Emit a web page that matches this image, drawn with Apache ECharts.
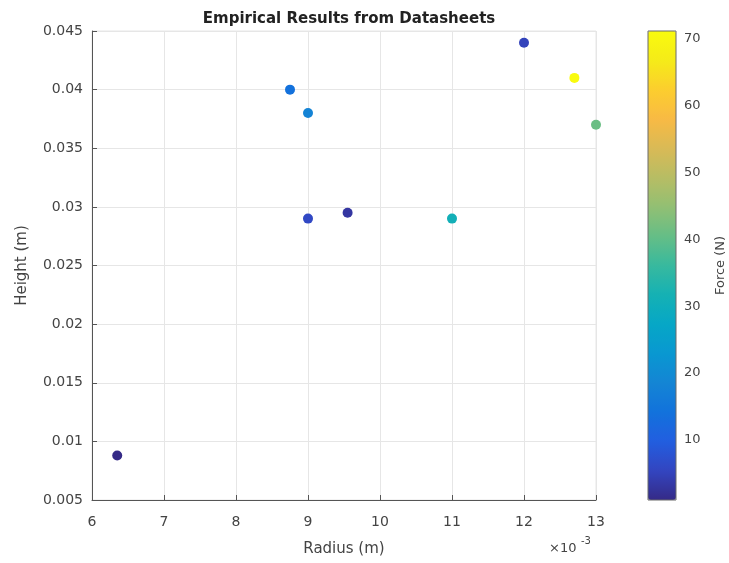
<!DOCTYPE html>
<html>
<head>
<meta charset="utf-8">
<title>Empirical Results from Datasheets</title>
<script src="https://cdn.jsdelivr.net/npm/echarts@6/dist/echarts.min.js"></script>
<style>
    html, body { margin: 0; padding: 0; background: #fff; }
    #chart { width: 729px; height: 563px; }
</style>
</head>
<body>
<div id="chart"></div>
<script>
// radius is shown in units of 1e-3 m (axis carries the x10^-3 note)
var radius = [6.35, 8.75, 9.0, 9.0, 9.55, 11.0, 12.0, 12.7, 13.0];
var height = [0.0088, 0.040, 0.038, 0.029, 0.0295, 0.029, 0.044, 0.041, 0.037];
var force = [1.0, 14, 18, 6, 3, 31, 5, 71.2, 41];
var forceTicks = [10, 20, 30, 40, 50, 60, 70];

// parula-like colormap (roughly every 4th entry of the 64 colour table)
var parula = ["#352a87", "#3345c0", "#225ee0", "#1272dc", "#1485d4", "#0998d1",
              "#06a7c6", "#15b1b4", "#38b99e", "#65be86", "#92bf73", "#b7bd64",
              "#d9ba56", "#f8ba44", "#fcce2e", "#f5eb18", "#f9fb0e"];

var points = [];
for(var i = 0; i < radius.length; i++){
    points.push([radius[i], height[i], force[i]]);
}

var font = "DejaVu Sans";
var textColor = "#444";
var axisColor = "#555";
var gridColor = "#e6e6e6";

var myChart = echarts.init(document.getElementById("chart"));
myChart.setOption({
    backgroundColor: "#fff",
    animation: false,
    title: {
        text: "Empirical Results from Datasheets",
        left: 344,
        textAlign: "center",
        top: 7,
        textStyle: {fontFamily: font, fontSize: 15, fontWeight: "bold", color: "#222"}
    },
    grid: [
        {left: 92, right: 133, top: 31, bottom: 63, outerBoundsMode: "none",
         show: true, borderColor: gridColor, borderWidth: 1},
        {left: 648, width: 28, top: 31, height: 469, outerBoundsMode: "none",
         show: true, borderColor: "#6b6b6b", borderWidth: 1, z: 10}
    ],
    xAxis: [
        {
            type: "value", gridIndex: 0, min: 6, max: 13, interval: 1,
            name: "Radius (m)", nameLocation: "middle", nameGap: 42,
            nameTextStyle: {fontFamily: font, fontSize: 15, color: textColor},
            axisLine: {lineStyle: {color: axisColor}},
            axisTick: {inside: true, length: 5, lineStyle: {color: axisColor}},
            axisLabel: {fontFamily: font, fontSize: 14, color: textColor, margin: 15},
            splitLine: {show: true, lineStyle: {color: gridColor}}
        },
        {type: "value", gridIndex: 1, show: false, min: 0, max: 1}
    ],
    yAxis: [
        {
            type: "value", gridIndex: 0, min: 0.005, max: 0.045, interval: 0.005,
            name: "Height (m)", nameLocation: "middle", nameGap: 62,
            nameTextStyle: {fontFamily: font, fontSize: 15, color: textColor},
            axisLine: {show: true, lineStyle: {color: axisColor}},
            axisTick: {show: true, inside: true, length: 5, lineStyle: {color: axisColor}},
            axisLabel: {fontFamily: font, fontSize: 14, color: textColor, margin: 9},
            splitLine: {show: true, lineStyle: {color: gridColor}}
        },
        {
            type: "value", gridIndex: 1, position: "right", min: 1, max: 71.2,
            name: "Force (N)", nameLocation: "middle", nameGap: 38, nameRotate: 90,
            nameTextStyle: {fontFamily: font, fontSize: 13, color: textColor},
            axisLine: {show: false, onZero: false},
            axisTick: {show: true, inside: true, length: 4, lineStyle: {color: "#555"}, customValues: forceTicks},
            axisLabel: {fontFamily: font, fontSize: 13, color: textColor, margin: 8, customValues: forceTicks},
            splitLine: {show: false}
        }
    ],
    visualMap: {
        type: "continuous",
        seriesIndex: 0,
        dimension: 2,
        min: 1,
        max: 71.2,
        calculable: false,
        realtime: false,
        left: 648,
        top: 31,
        padding: 0,
        itemWidth: 28,
        itemHeight: 469,
        text: null,
        showLabel: false,
        inRange: {color: parula}
    },
    graphic: [
        {
            type: "text", left: 549, top: 542,
            style: {text: "×10", font: "13px 'DejaVu Sans'", fill: textColor}
        },
        {
            type: "text", left: 581, top: 536,
            style: {text: "-3", font: "10px 'DejaVu Sans'", fill: textColor}
        }
    ],
    series: [
        {
            type: "scatter",
            xAxisIndex: 0,
            yAxisIndex: 0,
            symbolSize: 10,
            itemStyle: {opacity: 1},
            data: points
        }
    ]
});
</script>
</body>
</html>
